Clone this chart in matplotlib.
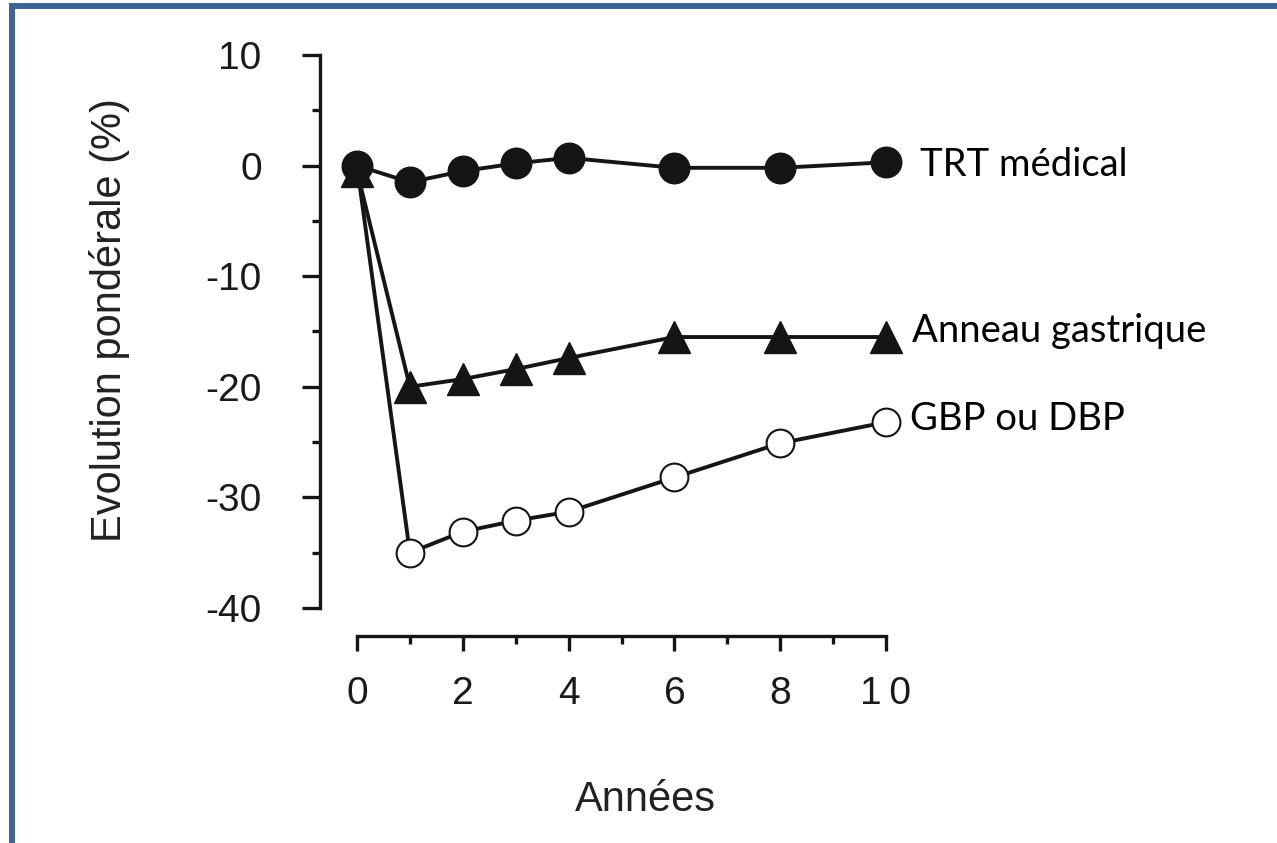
import matplotlib.pyplot as plt
from matplotlib.patches import Rectangle
from matplotlib.ticker import MultipleLocator

# data
years = [0, 1, 2, 3, 4, 6, 8, 10]
trt_medical = [0.0, -1.5, -0.5, 0.2, 0.7, -0.2, -0.2, 0.3]
anneau = [-0.5, -20.0, -19.3, -18.4, -17.4, -15.5, -15.5, -15.5]
gbp_dbp = [0.0, -35.0, -33.1, -32.1, -31.3, -28.2, -25.1, -23.2]
series_labels = ["TRT médical", "Anneau gastrique", "GBP ou DBP"]
x_ticks = [0, 2, 4, 6, 8, 10]
x_ticklabels = ["0", "2", "4", "6", "8", "1\u20090"]

INK = "#151515"
BORDER = "#3c6494"
W, H, DPI = 1277, 843, 100

plt.rcParams["font.family"] = ["Liberation Sans", "DejaVu Sans"]
plt.rcParams["axes.unicode_minus"] = False

fig = plt.figure(figsize=(W / DPI, H / DPI), dpi=DPI, facecolor="white")

# axes box: x 0..10 -> px 357..886, y -40..10 -> px 608..55
ax = fig.add_axes([357 / W, (H - 608) / H, (886 - 357) / W, (608 - 55) / H])
ax.set_xlim(0, 10)
ax.set_ylim(-40, 10)

lw = 2.8
ax.plot(years, gbp_dbp, color=INK, lw=lw, marker="o", ms=20, mfc="white",
        mec=INK, mew=1.5, clip_on=False, zorder=3)
ax.plot(years, anneau, color=INK, lw=lw, marker="^", ms=23, mfc=INK,
        mec=INK, clip_on=False, zorder=4)
ax.plot(years, trt_medical, color=INK, lw=lw, marker="o", ms=22, mfc=INK,
        mec=INK, clip_on=False, zorder=5)

# series names next to the last points
label_font = dict(family=["Lato", "DejaVu Sans"], fontsize=27.5, color="black",
                  va="center", ha="left")
ends = [trt_medical[-1], anneau[-1], gbp_dbp[-1]]
offsets = [(34, -3), (26, 6), (24, 3)]
for name, yv, off in zip(series_labels, ends, offsets):
    ax.annotate(name, xy=(years[-1], yv), xytext=off,
                textcoords="offset pixels", annotation_clip=False, **label_font)

# detached spines
for side in ("top", "right"):
    ax.spines[side].set_visible(False)
ax.spines["left"].set_position(("outward", 37 * 72 / DPI))
ax.spines["bottom"].set_position(("outward", 28 * 72 / DPI))
for side in ("left", "bottom"):
    ax.spines[side].set_linewidth(2.4)
    ax.spines[side].set_color(INK)
    ax.spines[side].set_capstyle("projecting")

ax.yaxis.set_major_locator(MultipleLocator(10))
ax.yaxis.set_minor_locator(MultipleLocator(5))
ax.xaxis.set_minor_locator(MultipleLocator(1))
ax.set_xticks(x_ticks)
ax.set_xticklabels(x_ticklabels)

ax.tick_params(axis="y", which="major", length=13, width=2.4, color=INK,
               pad=29, labelsize=28, labelcolor="#1a1a1a")
ax.tick_params(axis="y", which="minor", length=6, width=2.4, color=INK)
ax.tick_params(axis="x", which="major", length=11, width=2.4, color=INK,
               pad=18, labelsize=28, labelcolor="#1a1a1a")
ax.tick_params(axis="x", which="minor", length=6, width=2.4, color=INK)

fig.text(110 / W, (H - 320) / H, "Evolution pondérale (%)", rotation=90,
         ha="center", va="center", fontsize=30, color="#222222")
fig.text(645 / W, (H - 800) / H, "Années", ha="center", va="center",
         fontsize=30, color="#222222")

# blue frame: only top and left edges are inside the picture
fig.patches.append(Rectangle((12 / W, -0.2), 1.5, 0.2 + (H - 5.5) / H,
                             transform=fig.transFigure, fill=False,
                             edgecolor=BORDER, linewidth=6 * 72 / DPI))

fig.savefig("out.png", dpi=DPI, facecolor="white")
